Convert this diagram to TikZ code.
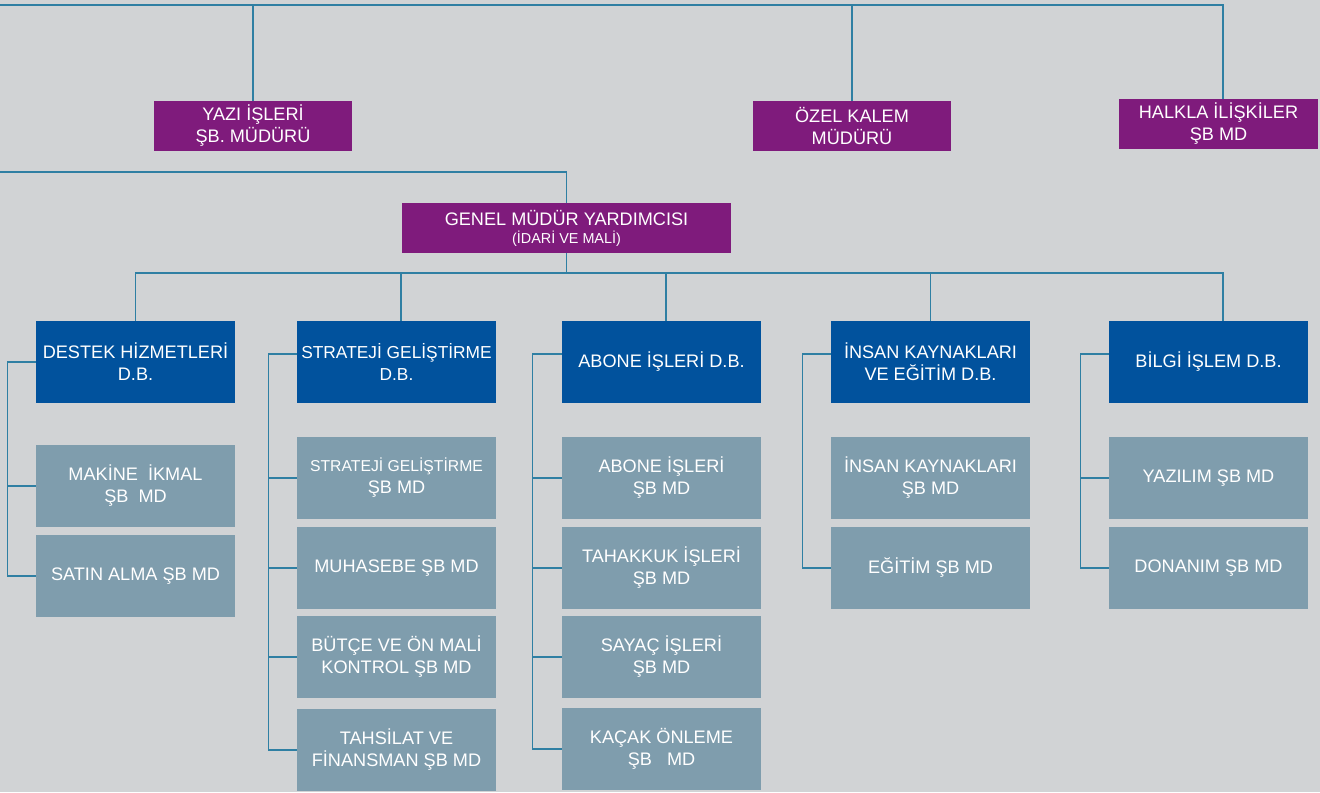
\documentclass[tikz,border=0pt]{standalone}
\usepackage{fontspec}
\setmainfont{Liberation Sans}
\usepackage{xcolor}
\usepackage{tikz}
\usetikzlibrary{positioning}

\definecolor{bgGray}{HTML}{D1D3D5}
\definecolor{linkBlue}{HTML}{2F7FA3}
\definecolor{headPurple}{HTML}{7F1B7C}
\definecolor{deptBlue}{HTML}{01529D}
\definecolor{unitGray}{HTML}{7F9DAD}

\begin{document}
\begin{tikzpicture}[
    x=0.75pt, y=-0.75pt,
    box/.style={rectangle, inner sep=1pt, align=center, text=white,
        font=\fontsize{13.6}{16.5}\selectfont},
    headbox/.style={box, fill=headPurple, minimum width=148.5pt, minimum height=37.5pt},
    deptbox/.style={box, fill=deptBlue, minimum width=149.25pt, minimum height=61.5pt},
    unitbox/.style={box, fill=unitGray, minimum width=149.25pt, minimum height=61.5pt},
    link/.style={draw=linkBlue, line width=0.9pt}
]

    \fill[bgGray] (0,0) rectangle (1320,792);
    \useasboundingbox (0,0) rectangle (1320,792);

    % top level
    \node[headbox] (yazi) at (253,126) {YAZI İŞLERİ\\ŞB. MÜDÜRÜ};
    \node[headbox] (ozel) at (852,126) {ÖZEL KALEM\\MÜDÜRÜ};
    \node[headbox, minimum width=149.25pt] (halk) at (1218.5,124) {HALKLA İLİŞKİLER\\ŞB MD};
    \node[headbox, minimum width=246.75pt] (gmy) at (566.5,228)
        {GENEL MÜDÜR YARDIMCISI\\[-3pt]{\fontsize{10.8}{12}\selectfont (İDARİ VE MALİ)}};

    \coordinate (topL) at (0,5);
    \coordinate (midL) at (0,172);
    \draw[link] (topL) -| ([xshift=3.4pt]halk.north);
    \draw[link] (yazi.north) -- (yazi.north |- topL);
    \draw[link] (ozel.north) -- (ozel.north |- topL);
    \draw[link] (midL) -| (gmy.north);

    % daire baskanliklari
    \node[deptbox] (dest)  at (135.5,362) {DESTEK HİZMETLERİ\\D.B.};
    \node[deptbox, font=\fontsize{13}{16.5}\selectfont] (strat) at (396.5,362) {STRATEJİ GELİŞTİRME\\D.B.};
    \node[deptbox] (abone) at (661.5,362) {ABONE İŞLERİ D.B.};
    \node[deptbox] (insan) at (930.5,362) {İNSAN KAYNAKLARI\\VE EĞİTİM D.B.};
    \node[deptbox] (bilgi) at (1208.5,362) {BİLGİ İŞLEM D.B.};

    \coordinate (bus) at (566.5,273);
    \draw[link] (gmy.south) -- (bus);
    \draw[link] (dest.north) |- (bus);
    \draw[link] ([xshift=3.4pt]strat.north) |- (bus);
    \draw[link] ([xshift=3.4pt]abone.north) |- (bus);
    \draw[link] (insan.north) |- (bus);
    \draw[link] ([xshift=10.9pt]bilgi.north) |- (bus);

    % sube mudurlukleri
    \node[unitbox] (makine) at (135.5,486) {MAKİNE\ \ İKMAL\\ŞB\ \ MD};
    \node[unitbox] (satin)  at (135.5,576) {SATIN ALMA ŞB MD};

    \node[unitbox] (sgel)   at (396.5,478) {{\fontsize{11.8}{16.5}\selectfont STRATEJİ GELİŞTİRME}\\ŞB MD};
    \node[unitbox] (muhas)  at (396.5,568) {MUHASEBE ŞB MD};
    \node[unitbox] (butce)  at (396.5,657) {BÜTÇE VE ÖN MALİ\\KONTROL ŞB MD};
    \node[unitbox] (tahsil) at (396.5,750) {TAHSİLAT VE\\FİNANSMAN ŞB MD};

    \node[unitbox] (aisl)   at (661.5,478) {ABONE İŞLERİ\\ŞB MD};
    \node[unitbox] (tahak)  at (661.5,568) {TAHAKKUK İŞLERİ\\ŞB MD};
    \node[unitbox] (sayac)  at (661.5,657) {SAYAÇ İŞLERİ\\ŞB MD};
    \node[unitbox] (kacak)  at (661.5,749) {KAÇAK ÖNLEME\\ŞB\ \ \ MD};

    \node[unitbox] (ikay)   at (930.5,478) {İNSAN KAYNAKLARI\\ŞB MD};
    \node[unitbox] (egit)   at (930.5,568) {EĞİTİM ŞB MD};

    \node[unitbox] (yazil)  at (1208.5,478) {YAZILIM ŞB MD};
    \node[unitbox] (donan)  at (1208.5,568) {DONANIM ŞB MD};

    % sol omurga baglantilari
    \draw[link] (dest.west) -- ++(-28,0) coordinate (dsp) |- (satin.west);
    \draw[link] (makine.west) -- (makine.west -| dsp);

    \draw[link] ([yshift=6pt]strat.west) -- ++(-28,0) coordinate (ssp) |- (tahsil.west);
    \draw[link] (sgel.west) -- (sgel.west -| ssp);
    \draw[link] (muhas.west) -- (muhas.west -| ssp);
    \draw[link] (butce.west) -- (butce.west -| ssp);

    \draw[link] ([yshift=6pt]abone.west) -- ++(-29,0) coordinate (asp) |- (kacak.west);
    \draw[link] (aisl.west) -- (aisl.west -| asp);
    \draw[link] (tahak.west) -- (tahak.west -| asp);
    \draw[link] (sayac.west) -- (sayac.west -| asp);

    \draw[link] ([yshift=6pt]insan.west) -- ++(-28,0) |- (egit.west);
    \draw[link] ([yshift=6pt]bilgi.west) -- ++(-28,0) coordinate (bsp) |- (donan.west);
    \draw[link] (yazil.west) -- (yazil.west -| bsp);

\end{tikzpicture}
\end{document}
